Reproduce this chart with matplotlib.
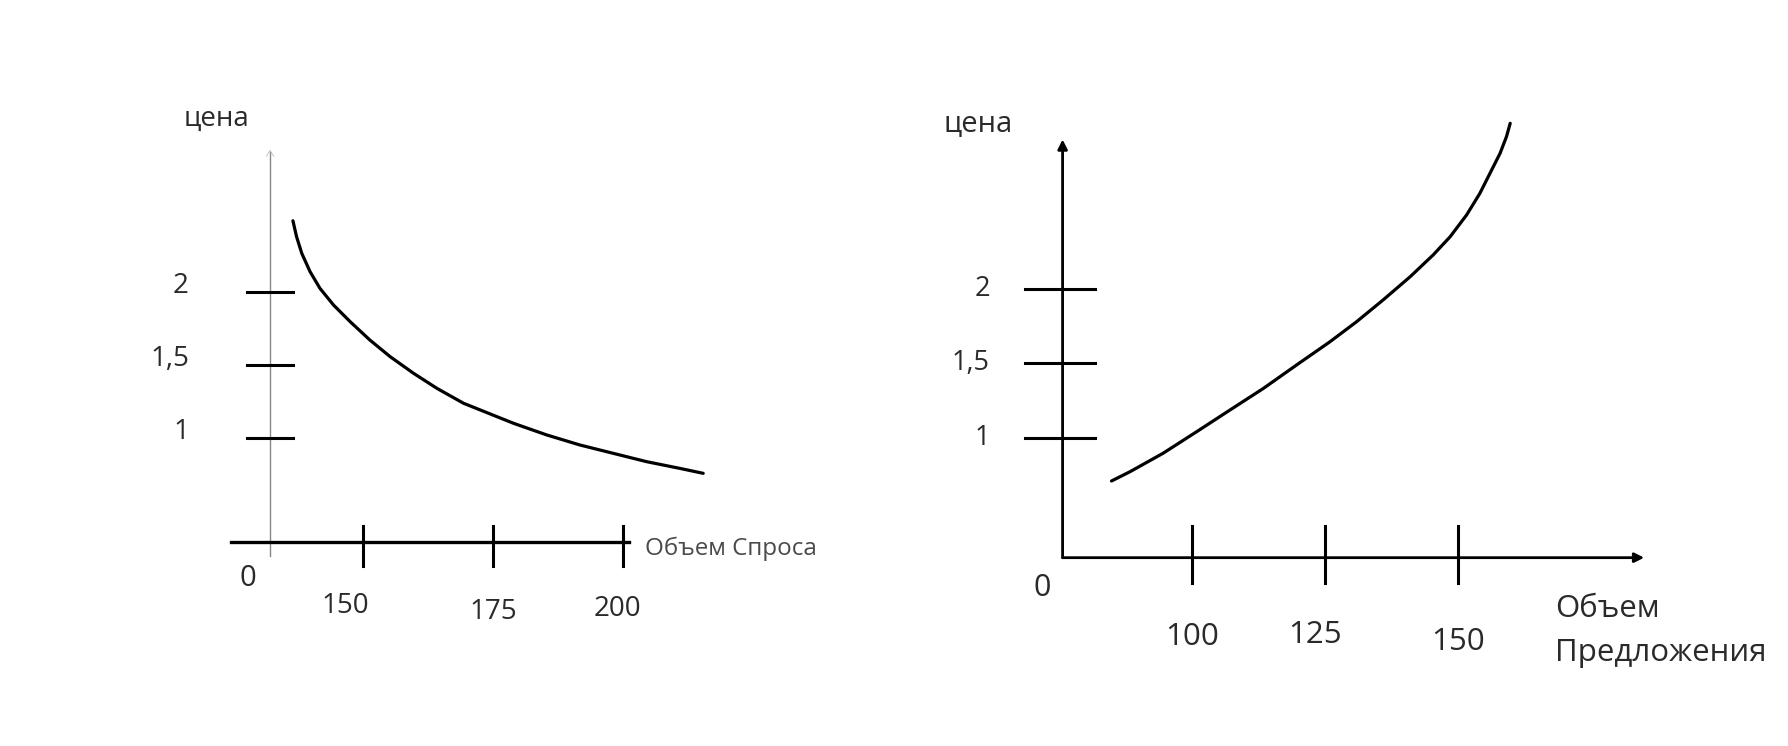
import numpy as np
import matplotlib.pyplot as plt

plt.rcParams['font.family'] = ['Open Sans', 'DejaVu Sans']

W, H, DPI = 1788, 746, 100

# demand (left)
dem_q = [136.6, 137.3, 138.3, 139.9, 141.8, 144.4, 147.6, 151.4, 155.3, 159.8,
         164.3, 169.4, 179.0, 185.4, 191.8, 198.2, 204.6, 211.0, 215.5]
dem_p = [2.488, 2.379, 2.265, 2.139, 2.025, 1.911, 1.797, 1.671, 1.557, 1.443,
         1.340, 1.238, 1.101, 1.021, 0.952, 0.895, 0.838, 0.792, 0.758]
dem_xticks = [150, 175, 200]
dem_yticks = [1, 1.5, 2]
dem_ylabels = ['1', '1,5', '2']

# supply (right)
sup_q = [84.8, 88.3, 94.5, 100.8, 107.1, 113.4, 119.6, 125.9, 130.9,
         135.9, 141.0, 145.3, 148.5, 151.6, 154.1, 156.0, 157.9, 159.1, 159.8]
sup_p = [0.707, 0.770, 0.894, 1.039, 1.186, 1.332, 1.489, 1.646, 1.781,
         1.928, 2.085, 2.231, 2.354, 2.501, 2.647, 2.782, 2.917, 3.029, 3.119]
sup_xticks = [100, 125, 150]
sup_yticks = [1, 1.5, 2]
sup_ylabels = ['1', '1,5', '2']

fig = plt.figure(figsize=(W / DPI, H / DPI), dpi=DPI)
fig.patch.set_facecolor('white')


def make_ax(x0, x1, q_ref, x_ref, px_q, p_ref, y_ref, px_p):
    # axes spanning pixels x0..x1 of the full height, linear data scale
    ax = fig.add_axes([x0 / W, 0, (x1 - x0) / W, 1])
    ax.set_xlim(q_ref + (x0 - x_ref) / px_q, q_ref + (x1 - x_ref) / px_q)
    ax.set_ylim(p_ref + (y_ref - H) / px_p, p_ref + y_ref / px_p)
    ax.axis('off')
    return ax


txt = dict(color='#2a2a2a')

# ---------------- left: спрос
ax = make_ax(0, 894, 175, 492.6, 5.2, 1.5, 365, 146)
ax.plot([132.2, 132.2], [0.19, 2.96], color='#888888', lw=1.0)
ax.plot([131.5, 132.2, 132.9], [2.93, 2.97, 2.93], color='#bbbbbb', lw=0.6)
ax.plot([124.6, 201.3], [0.29, 0.29], color='black', lw=2.4)
for t in dem_yticks:
    ax.plot([127.8, 136.6], [t, t], color='black', lw=2.2)
for t in dem_xticks:
    ax.plot([t, t], [0.40, 0.12], color='black', lw=2.2)
ax.plot(dem_q, dem_p, color='black', lw=2.3, solid_capstyle='round',
        solid_joinstyle='round')
ax.text(121.9, 3.183, 'цена', ha='center', va='center', fontsize=20, **txt)
for t, s in zip(dem_yticks, dem_ylabels):
    ax.text(116.6, t + 0.04, s, ha='right', va='center', fontsize=20, **txt)
for t, dx, y in zip(dem_xticks, [-3.25, 0.13, -1.0], [-0.151, -0.190, -0.173]):
    ax.text(t + dx, y, str(t), ha='center', va='center', fontsize=20, **txt)
ax.text(127.9, 0.039, '0', ha='center', va='center', fontsize=21, **txt)
ax.text(204.3, 0.240, 'Объем Спроса', ha='left', va='center', fontsize=17.4,
        color='#4a4a4a')

# ---------------- right: предложение
ax = make_ax(894, 1788, 125, 1325.2, 5.316, 1.5, 363.4, 148.3)
ax.annotate('', xy=(75.6, 3.01), xytext=(75.6, 0.19),
            arrowprops=dict(arrowstyle='-|>', lw=2.0, color='black',
                            mutation_scale=14, shrinkA=0, shrinkB=0))
ax.annotate('', xy=(185.0, 0.19), xytext=(75.6, 0.19),
            arrowprops=dict(arrowstyle='-|>', lw=2.0, color='black',
                            mutation_scale=14, shrinkA=0, shrinkB=0))
for t in sup_yticks:
    ax.plot([68.5, 81.7], [t, t], color='black', lw=2.2)
for t in sup_xticks:
    ax.plot([t, t], [0.405, 0.02], color='black', lw=2.2)
ax.plot(sup_q, sup_p, color='black', lw=2.3, solid_capstyle='round',
        solid_joinstyle='round')
ax.text(59.74, 3.119, 'цена', ha='center', va='center', fontsize=21, **txt)
for t, s in zip(sup_yticks, sup_ylabels):
    ax.text(61.9, t, s, ha='right', va='center', fontsize=19.5, **txt)
for t, dx, y in zip(sup_xticks, [0.0, -2.0, 0.04], [-0.343, -0.331, -0.377]):
    ax.text(t + dx, y, str(t), ha='center', va='center', fontsize=22.5, **txt)
ax.text(71.67, -0.017, '0', ha='center', va='center', fontsize=22, **txt)
ax.text(168.3, -0.156, 'Объем', ha='left', va='center', fontsize=22.5, **txt)
ax.text(168.3, -0.455, 'Предложения', ha='left', va='center', fontsize=22.5, **txt)

fig.savefig('out.png', dpi=DPI, facecolor='white')
